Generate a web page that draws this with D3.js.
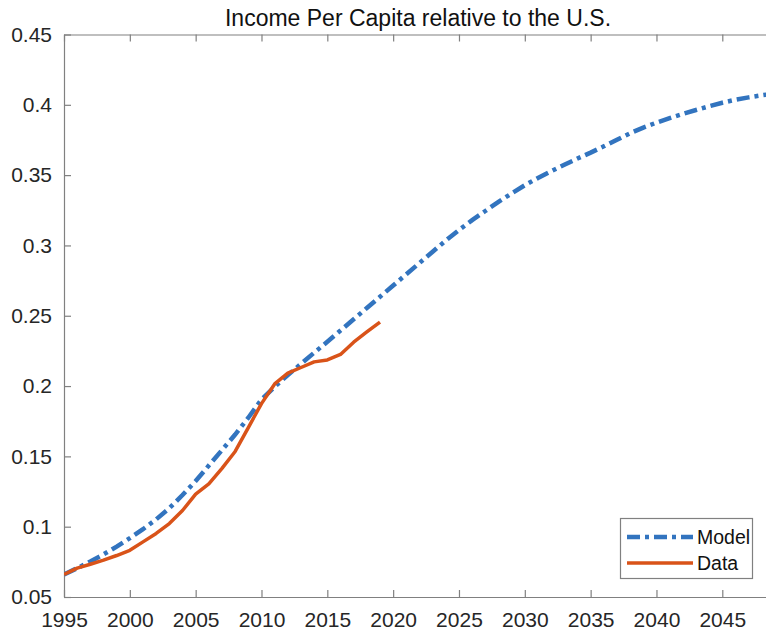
<!DOCTYPE html>
<html>
<head>
<meta charset="utf-8">
<script src="https://cdn.jsdelivr.net/npm/d3@7"></script>
<style>
  html, body { margin: 0; padding: 0; background: #fff; }
  svg { display: block; font-family: "Liberation Sans", Arial, Helvetica, sans-serif; }
</style>
</head>
<body>
<svg id="chart" width="766" height="634"></svg>
<script>
// ---- data ----
const titleText = "Income Per Capita relative to the U.S.";
const modelYears = d3.range(1995, 2050);
const modelValues = [
  0.066, 0.0705, 0.0752, 0.0803, 0.0858, 0.0918, 0.0982, 0.1052, 0.1132, 0.1225,
  0.1325, 0.1435, 0.1545, 0.1655, 0.1775, 0.1905, 0.1995, 0.2078, 0.2158, 0.2237,
  0.2315, 0.2395, 0.2475, 0.2555, 0.2635, 0.2715, 0.2795, 0.2875, 0.2955, 0.3035,
  0.311, 0.318, 0.3245, 0.331, 0.337, 0.3428, 0.348, 0.3528, 0.3574, 0.3618,
  0.366, 0.3705, 0.3752, 0.3798, 0.3838, 0.3873, 0.3905, 0.3935, 0.3963, 0.399,
  0.4015, 0.4036, 0.4053, 0.4068, 0.408
];
const dataYears = d3.range(1995, 2020);
const dataValues = [
  0.066, 0.0705, 0.0733, 0.0762, 0.0795, 0.0832, 0.0892, 0.0952, 0.1022, 0.1115,
  0.1232, 0.1305, 0.1415, 0.1535, 0.1705, 0.1875, 0.2015, 0.2092, 0.2132, 0.2172,
  0.2186, 0.2225, 0.2312, 0.2385, 0.2455
];
const seriesNames = ["Model", "Data"];
const xTicks = [1995, 2000, 2005, 2010, 2015, 2020, 2025, 2030, 2035, 2040, 2045];
const yTicks = [0.05, 0.1, 0.15, 0.2, 0.25, 0.3, 0.35, 0.4, 0.45];
const yTickLabels = ["0.05", "0.1", "0.15", "0.2", "0.25", "0.3", "0.35", "0.4", "0.45"];

// ---- layout ----
const plotLeft = 64, plotTop = 34.5, plotBottom = 597;
const pxPerYear = 13.166;
const xMax = 2048.5;
const plotRight = plotLeft + (xMax - 1995) * pxPerYear;

const svg = d3.select("#chart");
const x = d3.scaleLinear().domain([1995, xMax]).range([plotLeft, plotRight]);
const y = d3.scaleLinear().domain([0.05, 0.45]).range([plotBottom, plotTop]);

const axisColor = "#808080";
const textColor = "#262626";
const blue = "#3274bf";
const orange = "#d95319";

svg.append("defs").append("clipPath").attr("id", "clip")
  .append("rect").attr("x", plotLeft).attr("y", plotTop)
  .attr("width", plotRight - plotLeft).attr("height", plotBottom - plotTop);

// title
svg.append("text")
  .attr("x", 418).attr("y", 26)
  .attr("text-anchor", "middle")
  .attr("font-size", 23)
  .attr("fill", "#111")
  .text(titleText);

// axes
function styleAxis(g) {
  g.selectAll(".domain").attr("stroke", axisColor).attr("stroke-width", 1.2);
  g.selectAll(".tick line").attr("stroke", axisColor).attr("stroke-width", 1.2);
  g.selectAll(".tick text").attr("fill", textColor).attr("font-size", 21)
    .attr("font-family", "'Liberation Sans', Arial, Helvetica, sans-serif");
}

const gx = svg.append("g").attr("transform", `translate(0,${plotBottom})`)
  .call(d3.axisBottom(x).tickValues(xTicks).tickFormat(d3.format("d"))
    .tickSizeInner(-7).tickSizeOuter(0).tickPadding(15));
styleAxis(gx);

const gxTop = svg.append("g").attr("transform", `translate(0,${plotTop})`)
  .call(d3.axisTop(x).tickValues(xTicks).tickFormat("")
    .tickSizeInner(-7).tickSizeOuter(0));
styleAxis(gxTop);

const gy = svg.append("g").attr("transform", `translate(${plotLeft},0)`)
  .call(d3.axisLeft(y).tickValues(yTicks).tickFormat((d, i) => yTickLabels[i])
    .tickSizeInner(-7).tickSizeOuter(0).tickPadding(12));
styleAxis(gy);

// lines
const plot = svg.append("g").attr("clip-path", "url(#clip)");
const line = d3.line().x(d => x(d[0])).y(d => y(d[1]));

plot.append("path")
  .datum(modelYears.map((yr, i) => [yr, modelValues[i]]))
  .attr("d", line)
  .attr("fill", "none")
  .attr("stroke", blue)
  .attr("stroke-width", 4.5)
  .attr("stroke-dasharray", "13,5,4,5");

plot.append("path")
  .datum(dataYears.map((yr, i) => [yr, dataValues[i]]))
  .attr("d", line)
  .attr("fill", "none")
  .attr("stroke", orange)
  .attr("stroke-width", 3.5)
  .attr("stroke-linejoin", "round");

// legend
const lg = svg.append("g");
lg.append("rect")
  .attr("x", 620.5).attr("y", 518.5).attr("width", 132).attr("height", 60)
  .attr("fill", "#fff").attr("stroke", axisColor).attr("stroke-width", 1.2);
const legendRows = [
  { name: seriesNames[0], color: blue, w: 4.5, dash: "13,5,4,5", yy: 537 },
  { name: seriesNames[1], color: orange, w: 3.5, dash: null, yy: 563 }
];
legendRows.forEach(r => {
  lg.append("line")
    .attr("x1", 627).attr("x2", 693).attr("y1", r.yy).attr("y2", r.yy)
    .attr("stroke", r.color).attr("stroke-width", r.w)
    .attr("stroke-dasharray", r.dash);
  lg.append("text")
    .attr("x", 697).attr("y", r.yy).attr("dy", "0.35em")
    .attr("font-size", 19.5).attr("fill", "#111")
    .text(r.name);
});
</script>
</body>
</html>
